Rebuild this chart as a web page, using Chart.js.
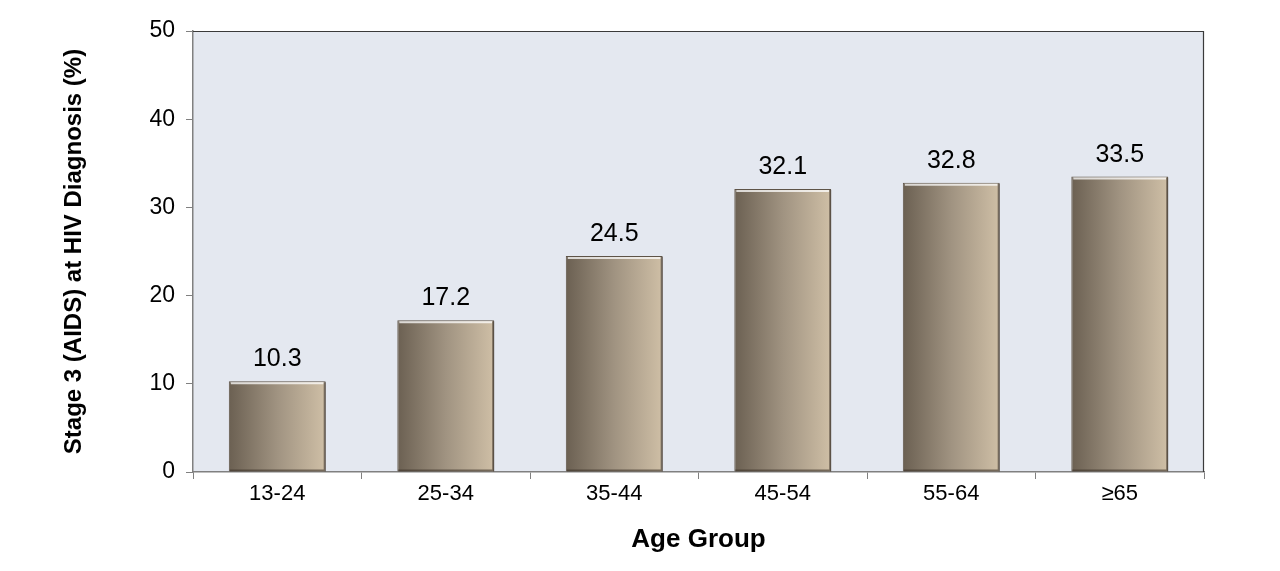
<!DOCTYPE html>
<html lang="en">
<head>
  <meta charset="UTF-8">
  <title>Stage 3 (AIDS) at HIV Diagnosis by Age Group</title>
  <script src="https://cdn.jsdelivr.net/npm/chart.js"></script>
  <style>
    html, body { margin: 0; padding: 0; background: #fff; }
    #wrap { width: 1280px; height: 571px; }
  </style>
</head>
<body>
  <div id="wrap"><canvas id="chart" width="1280" height="571"></canvas></div>

  <script>
    // Data
    const ageGroups = ['13-24', '25-34', '35-44', '45-54', '55-64', '≥65'];
    const stage3Pct = [10.3, 17.2, 24.5, 32.1, 32.8, 33.5];
    const yTicks = [0, 10, 20, 30, 40, 50];

    const FONT = "'Liberation Sans', Arial, sans-serif";
    const BAR_PCT = 0.575;

    // horizontal gradient per bar, dark left -> light right
    function barFill(ctx) {
      const chart = ctx.chart;
      const area = chart.chartArea;
      if (!area) return '#9a8d7c';
      const x = chart.scales.x;
      const cx = x.getPixelForValue(ctx.dataIndex);
      const w = (area.right - area.left) / ageGroups.length * BAR_PCT;
      const g = chart.ctx.createLinearGradient(cx - w / 2, 0, cx + w / 2, 0);
      g.addColorStop(0, '#6b6052');
      g.addColorStop(0.5, '#a09381');
      g.addColorStop(1, '#cfbfa6');
      return g;
    }

    // plot background and frame
    const plotFrame = {
      id: 'plotFrame',
      beforeDraw(chart) {
        const { ctx, chartArea: a } = chart;
        ctx.save();
        ctx.fillStyle = '#e4e8f0';
        ctx.fillRect(a.left, a.top, a.right - a.left, a.bottom - a.top);
        ctx.restore();
      },
      afterDraw(chart) {
        const { ctx, chartArea: a } = chart;
        ctx.save();
        ctx.strokeStyle = '#3a3a3a';
        ctx.lineWidth = 1.2;
        ctx.beginPath();
        ctx.moveTo(a.left, a.top + 0.5);
        ctx.lineTo(a.right - 0.5, a.top + 0.5);
        ctx.lineTo(a.right - 0.5, a.bottom);
        ctx.stroke();
        ctx.restore();
      }
    };

    // bevel highlights and value labels
    const barDecor = {
      id: 'barDecor',
      afterDatasetsDraw(chart) {
        const { ctx } = chart;
        const meta = chart.getDatasetMeta(0);
        ctx.save();
        meta.data.forEach((bar, i) => {
          const { x, y, base, width } = bar.getProps(['x', 'y', 'base', 'width'], true);
          const l = x - width / 2, r = x + width / 2;
          // top light edge
          ctx.strokeStyle = 'rgba(255,255,255,0.75)';
          ctx.lineWidth = 2;
          ctx.beginPath();
          ctx.moveTo(l + 2, y + 2);
          ctx.lineTo(r - 2, y + 2);
          ctx.stroke();
          // right/bottom dark edge
          ctx.strokeStyle = 'rgba(60,50,40,0.6)';
          ctx.lineWidth = 2;
          ctx.beginPath();
          ctx.moveTo(r - 1, y + 1);
          ctx.lineTo(r - 1, base - 1);
          ctx.lineTo(l + 1, base - 1);
          ctx.stroke();
          // value label
          ctx.fillStyle = '#000';
          ctx.font = '25px ' + FONT;
          ctx.textAlign = 'center';
          ctx.textBaseline = 'alphabetic';
          ctx.fillText(stage3Pct[i].toFixed(1), x, y - 15);
        });
        ctx.restore();
      }
    };

    new Chart(document.getElementById('chart'), {
      type: 'bar',
      data: {
        labels: ageGroups,
        datasets: [{
          data: stage3Pct,
          backgroundColor: barFill,
          borderColor: '#5e5448',
          borderWidth: 1,
          categoryPercentage: 1,
          barPercentage: BAR_PCT
        }]
      },
      options: {
        responsive: false,
        animation: false,
        devicePixelRatio: 1,
        layout: { padding: { top: 31, right: 76, left: 0, bottom: 0 } },
        plugins: {
          legend: { display: false },
          tooltip: { enabled: false }
        },
        scales: {
          x: {
            grid: {
              offset: true,
              drawOnChartArea: false,
              drawTicks: true,
              tickLength: 7,
              color: '#808080'
            },
            border: { color: '#808080', width: 1.5 },
            ticks: {
              color: '#000',
              font: { family: FONT, size: 22 },
              padding: 2
            },
            title: {
              display: true,
              text: 'Age Group',
              color: '#000',
              font: { family: FONT, size: 26, weight: 'bold' },
              padding: { top: 0, bottom: 16 }
            },
            afterFit(s) { s.height = 99; }
          },
          y: {
            min: 0,
            max: 50,
            afterBuildTicks(s) { s.ticks = yTicks.map(v => ({ value: v })); },
            grid: {
              drawOnChartArea: false,
              drawTicks: true,
              tickLength: 7,
              color: '#808080'
            },
            border: { color: '#808080', width: 1.5 },
            ticks: {
              color: '#000',
              font: { family: FONT, size: 23 },
              padding: 11
            },
            title: {
              display: true,
              text: 'Stage 3 (AIDS) at HIV Diagnosis (%)',
              color: '#000',
              font: { family: FONT, size: 24, weight: 'bold' },
              padding: { top: 60, bottom: 0 }
            },
            afterFit(s) { s.width = 193; }
          }
        }
      },
      plugins: [plotFrame, barDecor]
    });
  </script>
</body>
</html>
